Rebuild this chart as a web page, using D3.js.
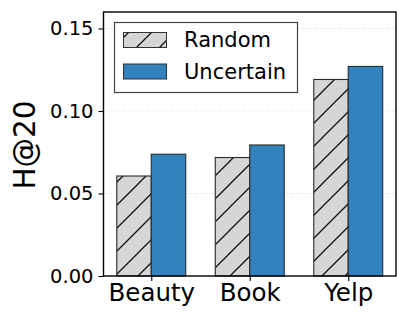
<!DOCTYPE html>
<html>
<head>
<meta charset="utf-8">
<script src="https://cdn.jsdelivr.net/npm/d3@7"></script>
<style>
html,body{margin:0;padding:0;background:#fff;}
svg{display:block;font-family:"DejaVu Sans",sans-serif;}
</style>
</head>
<body>
<svg id="chart" width="408" height="324"></svg>
<script>
const categories = ["Beauty", "Book", "Yelp"];
const seriesNames = ["Random", "Uncertain"];
const randomValues = [0.0606, 0.0718, 0.1191];
const uncertainValues = [0.0738, 0.0794, 0.1270];
const yTicks = [0.00, 0.05, 0.10, 0.15];

const W = 408, H = 324;
const m = {left: 103.5, right: 12, top: 12, bottom: 48};
const svg = d3.select("#chart");

const defs = svg.append("defs");
const pat = defs.append("pattern")
  .attr("id", "hatch").attr("patternUnits", "userSpaceOnUse")
  .attr("width", 23).attr("height", 23);
pat.append("rect").attr("width", 23).attr("height", 23).attr("fill", "#d6d6d6");
pat.append("path").attr("d", "M-2,25 L25,-2 M-2,2 L2,-2 M21,25 L25,21")
  .attr("stroke", "#111").attr("stroke-width", 1.3).attr("fill", "none");

const x = d3.scaleLinear().domain([-0.485, 2.485]).range([m.left, W - m.right]);
const y = d3.scaleLinear().domain([0, 0.16]).range([H - m.bottom, m.top]);
const bw = x(0.35) - x(0);

// grid
svg.append("g").selectAll("line").data(yTicks.slice(1)).join("line")
  .attr("x1", m.left).attr("x2", W - m.right)
  .attr("y1", d => y(d)).attr("y2", d => y(d))
  .attr("stroke", "#b0b0b0").attr("stroke-opacity", 0.3)
  .attr("stroke-dasharray", "4,2").attr("stroke-width", 0.8);

const series = [
  {name: seriesNames[0], values: randomValues, fill: "url(#hatch)", off: -1},
  {name: seriesNames[1], values: uncertainValues, fill: "#3182bd", off: 0}
];
series.forEach(s => {
  svg.append("g").selectAll("rect").data(s.values).join("rect")
    .attr("x", (d, i) => x(i + s.off * 0.35))
    .attr("width", bw)
    .attr("y", d => y(d))
    .attr("height", d => y(0) - y(d))
    .attr("fill", s.fill)
    .attr("stroke", "#2a2a2a").attr("stroke-width", 1.1);
});

// axes
const yAxis = d3.axisLeft(y).tickValues(yTicks).tickFormat(d3.format(".2f")).tickSize(5).tickPadding(5);
const gy = svg.append("g").attr("transform", `translate(${m.left},0)`).call(yAxis);
gy.select(".domain").remove();
gy.selectAll("text").attr("font-size", 19.5).attr("font-family", "DejaVu Sans").attr("fill", "#000");
gy.selectAll("line").attr("stroke", "#000").attr("stroke-width", 1.1);

const xAxis = d3.axisBottom(x).tickValues([0, 1, 2]).tickFormat(i => categories[i]).tickSize(5).tickPadding(3);
const gx = svg.append("g").attr("transform", `translate(0,${H - m.bottom})`).call(xAxis);
gx.select(".domain").remove();
gx.selectAll("text").attr("font-size", 24.5).attr("font-family", "DejaVu Sans").attr("fill", "#000");
gx.selectAll("line").attr("stroke", "#000").attr("stroke-width", 1.1);

// frame
svg.append("rect").attr("x", m.left).attr("y", m.top)
  .attr("width", W - m.right - m.left).attr("height", H - m.bottom - m.top)
  .attr("fill", "none").attr("stroke", "#000").attr("stroke-width", 1.4);

// y label
svg.append("text").attr("transform", `translate(35,145) rotate(-90)`)
  .attr("text-anchor", "middle").attr("font-size", 29.5).text("H@20");

// legend
const lg = svg.append("g");
lg.append("rect").attr("x", 114.5).attr("y", 22.5).attr("width", 183).attr("height", 70)
  .attr("fill", "#fff").attr("fill-opacity", 0.8).attr("stroke", "#444").attr("stroke-width", 1.2);
series.forEach((s, i) => {
  const yy = 32.5 + i * 31.5;
  lg.append("rect").attr("x", 123.5).attr("y", yy).attr("width", 43).attr("height", 15)
    .attr("fill", s.fill).attr("stroke", "#333").attr("stroke-width", 1);
  lg.append("text").attr("x", 184).attr("y", yy + 14.5).attr("font-size", 21).text(s.name);
});
</script>
</body>
</html>
